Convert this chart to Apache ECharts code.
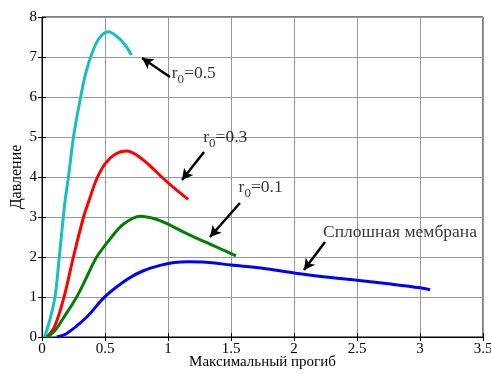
<!DOCTYPE html>
<html><head><meta charset="utf-8">
<script src="https://cdn.jsdelivr.net/npm/echarts@6/dist/echarts.min.js"></script>
<style>html,body{margin:0;padding:0;background:#fff}#c{width:491px;height:374px}</style>
</head><body><div id="c"></div>
<script>
// Data (x: максимальный прогиб, y: давление)
const r05 = [[0.02,0],[0.06,0.4],[0.103,1],[0.137,2],[0.183,3.4],[0.21,4],[0.25,5],[0.307,6],[0.34,6.5],[0.386,7],[0.45,7.45],[0.526,7.63],[0.6,7.5],[0.66,7.3],[0.71,7.05]];
const r03 = [[0.04,0],[0.1,0.26],[0.175,1],[0.249,2],[0.33,3],[0.375,3.43],[0.434,3.95],[0.5,4.33],[0.58,4.57],[0.672,4.65],[0.75,4.55],[0.85,4.3],[0.95,4.0],[1.05,3.72],[1.16,3.44]];
const r01 = [[0.04,0],[0.1,0.15],[0.175,0.5],[0.275,1],[0.355,1.5],[0.434,2],[0.553,2.5],[0.65,2.83],[0.778,3.02],[0.9,2.95],[1.0,2.82],[1.1,2.66],[1.2,2.51],[1.3,2.37],[1.42,2.2],[1.54,2.03]];
const solid = [[0.117,0],[0.196,0.09],[0.355,0.5],[0.5,1.01],[0.68,1.45],[0.8,1.65],[0.937,1.79],[1.05,1.86],[1.16,1.88],[1.3,1.87],[1.5,1.8],[1.75,1.72],[2.0,1.6],[2.25,1.5],[2.5,1.42],[2.75,1.33],[3.0,1.23],[3.08,1.18]];
const xTicks = [0,0.5,1,1.5,2,2.5,3,3.5];
const yTicks = [0,1,2,3,4,5,6,7,8];
const xName = 'Максимальный прогиб';
const yName = 'Давление';
// annotations: label, subscript value text, label anchor, arrow tail, arrow head
const notes = [
  {t:'r0=0.5', sub:true, val:'=0.5', at:[1.03,6.6], tail:[1.016,6.5], head:[0.794,6.975]},
  {t:'r0=0.3', sub:true, val:'=0.3', at:[1.28,5.0], tail:[1.286,4.625], head:[1.111,3.925]},
  {t:'r0=0.1', sub:true, val:'=0.1', at:[1.56,3.75], tail:[1.571,3.35], head:[1.333,2.5]},
  {t:'Сплошная мембрана', sub:false, at:[2.23,2.62], tail:[2.246,2.375], head:[2.079,1.675]}
];
const FONT = 'Liberation Serif';
const chart = echarts.init(document.getElementById('c'), null, {renderer:'canvas'});
function line(name, data, color){
  return {name, type:'line', data, smooth:0.35, showSymbol:false, lineStyle:{color, width:3}, itemStyle:{color}, z:3};
}
const axisCommon = {
  axisLine:{show:true, lineStyle:{color:'#000', width:1}},
  axisTick:{show:true, inside:true, length:4, lineStyle:{color:'#000'}},
  splitLine:{show:true, lineStyle:{color:'#999', width:1}}
};
const arrows = notes.map(n => [{coord:n.tail, symbol:'none'},{coord:n.head, symbol:'arrow'}]);
const labelData = notes.map(n => ({
  value:n.at,
  label:{formatter: n.sub ? '{r|r}{s|0}{r|'+n.val+'}' : '{r|'+n.t+'}'}
}));
chart.setOption({
  animation:false,
  textStyle:{fontFamily:FONT, color:'#000'},
  grid:{left:42, right:8, top:17, bottom:37, outerBoundsMode:'none', containLabel:false, show:true, borderColor:'#000', borderWidth:1},
  xAxis:[Object.assign({}, axisCommon, {type:'value', min:0, max:3.5, interval:0.5,
    name:xName, nameLocation:'middle', nameGap:18, nameMoveOverlap:false, nameTextStyle:{color:'#000', fontFamily:FONT, fontSize:15},
    axisLabel:{color:'#000', fontFamily:FONT, fontSize:15, margin:5, formatter:v=>String(v)}}),
    {type:'value', position:'top', min:0, max:3.5, interval:0.5, axisLine:{show:false}, axisTick:{show:true, inside:true, length:4, lineStyle:{color:'#000'}}, axisLabel:{show:false}, splitLine:{show:false}}],
  yAxis:[Object.assign({}, axisCommon, {type:'value', min:0, max:8, interval:1,
    name:yName, nameLocation:'middle', nameGap:17, nameMoveOverlap:false, nameRotate:90, nameTextStyle:{color:'#000', fontFamily:FONT, fontSize:16},
    axisLabel:{color:'#000', fontFamily:FONT, fontSize:15, margin:5}}),
    {type:'value', position:'right', min:0, max:8, interval:1, axisLine:{show:false}, axisTick:{show:true, inside:true, length:4, lineStyle:{color:'#000'}}, axisLabel:{show:false}, splitLine:{show:false}}],
  series:[
    line('r0=0.5', r05, '#17BFBF'),
    line('r0=0.3', r03, '#FF0000'),
    line('r0=0.1', r01, '#008000'),
    line('Сплошная мембрана', solid, '#0000FF'),
    {type:'scatter', data:labelData, symbolSize:0, silent:true, z:5,
      label:{show:true, position:'right', distance:0, color:'#000', fontFamily:FONT,
        rich:{r:{fontSize:17.5, fontFamily:FONT, color:'#000', lineHeight:20},
              s:{fontSize:13, fontFamily:FONT, color:'#000', lineHeight:20, padding:[13,0,0,0]}}},
      markLine:{silent:true, symbolSize:[9,11], label:{show:false},
        lineStyle:{color:'#000', width:2.5, type:'solid'}, data:arrows}}
  ]
});
</script></body></html>
